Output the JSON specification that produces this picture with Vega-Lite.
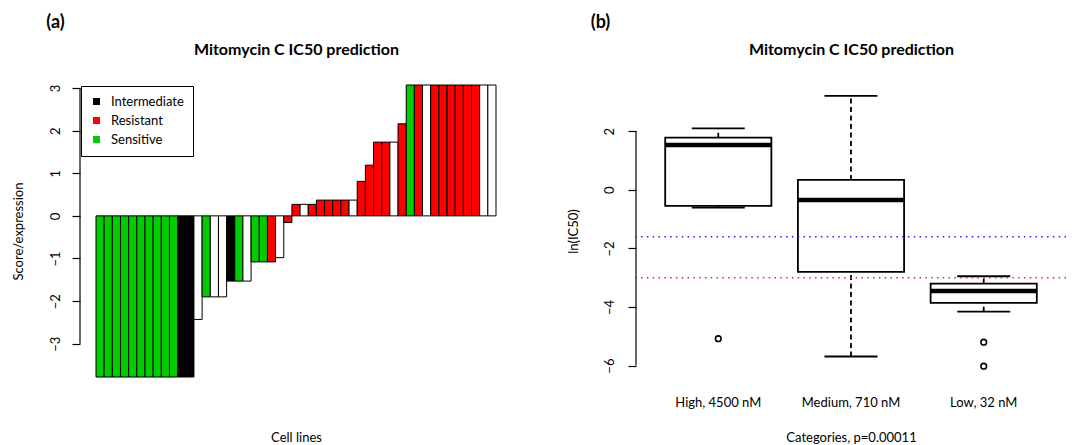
{
 "$schema": "https://vega.github.io/schema/vega-lite/v6.json",
 "padding": {"left": 12, "top": 13, "right": 0, "bottom": 0},
 "config": {
  "font": "Lato",
  "view": {"stroke": null},
  "axis": {"grid": false, "labelColor": "black", "titleColor": "black", "tickColor": "black", "domainColor": "black", "labelFontSize": 13, "titleFontSize": 13, "titleFontWeight": "normal", "labelFont": "Lato", "titleFont": "Lato"},
  "title": {"font": "Lato", "color": "black"}
 },
 "datasets": {
  "bars": [
   {"i": 1, "v": -3.78, "c": "Sensitive"},
   {"i": 2, "v": -3.78, "c": "Sensitive"},
   {"i": 3, "v": -3.78, "c": "Sensitive"},
   {"i": 4, "v": -3.78, "c": "Sensitive"},
   {"i": 5, "v": -3.78, "c": "Sensitive"},
   {"i": 6, "v": -3.78, "c": "Sensitive"},
   {"i": 7, "v": -3.78, "c": "Sensitive"},
   {"i": 8, "v": -3.78, "c": "Sensitive"},
   {"i": 9, "v": -3.78, "c": "Sensitive"},
   {"i": 10, "v": -3.78, "c": "Sensitive"},
   {"i": 11, "v": -3.78, "c": "Intermediate"},
   {"i": 12, "v": -3.78, "c": "Intermediate"},
   {"i": 13, "v": -2.43, "c": "None"},
   {"i": 14, "v": -1.90, "c": "Sensitive"},
   {"i": 15, "v": -1.90, "c": "None"},
   {"i": 16, "v": -1.90, "c": "None"},
   {"i": 17, "v": -1.53, "c": "Intermediate"},
   {"i": 18, "v": -1.53, "c": "Sensitive"},
   {"i": 19, "v": -1.53, "c": "None"},
   {"i": 20, "v": -1.08, "c": "Sensitive"},
   {"i": 21, "v": -1.08, "c": "Sensitive"},
   {"i": 22, "v": -1.08, "c": "Resistant"},
   {"i": 23, "v": -0.98, "c": "None"},
   {"i": 24, "v": -0.155, "c": "Resistant"},
   {"i": 25, "v": 0.27, "c": "Resistant"},
   {"i": 26, "v": 0.27, "c": "None"},
   {"i": 27, "v": 0.27, "c": "Resistant"},
   {"i": 28, "v": 0.37, "c": "Resistant"},
   {"i": 29, "v": 0.37, "c": "Resistant"},
   {"i": 30, "v": 0.37, "c": "Resistant"},
   {"i": 31, "v": 0.37, "c": "Resistant"},
   {"i": 32, "v": 0.37, "c": "None"},
   {"i": 33, "v": 0.81, "c": "Resistant"},
   {"i": 34, "v": 1.19, "c": "Resistant"},
   {"i": 35, "v": 1.73, "c": "Resistant"},
   {"i": 36, "v": 1.73, "c": "Resistant"},
   {"i": 37, "v": 1.73, "c": "None"},
   {"i": 38, "v": 2.16, "c": "Resistant"},
   {"i": 39, "v": 3.07, "c": "Sensitive"},
   {"i": 40, "v": 3.07, "c": "Resistant"},
   {"i": 41, "v": 3.07, "c": "None"},
   {"i": 42, "v": 3.07, "c": "Resistant"},
   {"i": 43, "v": 3.07, "c": "Resistant"},
   {"i": 44, "v": 3.07, "c": "Resistant"},
   {"i": 45, "v": 3.07, "c": "Resistant"},
   {"i": 46, "v": 3.07, "c": "Resistant"},
   {"i": 47, "v": 3.07, "c": "Resistant"},
   {"i": 48, "v": 3.07, "c": "None"},
   {"i": 49, "v": 3.07, "c": "None"}
  ],
  "boxes": [
   {"cat": "High, 4500 nM", "lo": -0.61, "q1": -0.55, "med": 1.53, "q3": 1.78, "hi": 2.10},
   {"cat": "Medium, 710 nM", "lo": -5.69, "q1": -2.80, "med": -0.35, "q3": 0.34, "hi": 3.21},
   {"cat": "Low, 32 nM", "lo": -4.16, "q1": -3.86, "med": -3.45, "q3": -3.20, "hi": -2.95}
  ],
  "outliers": [
   {"cat": "High, 4500 nM", "v": -5.08},
   {"cat": "Low, 32 nM", "v": -5.20},
   {"cat": "Low, 32 nM", "v": -6.02}
  ],
  "lines": [
   {"y": -1.6, "col": "#2222ee"},
   {"y": -3.0, "col": "#ee2222"}
  ],
  "one": [{"k": 1}]
 },
 "spacing": 124,
 "bounds": "flush",
 "hconcat": [
  {
   "width": 432, "height": 292,
   "layer": [
    {
     "data": {"name": "bars"},
     "mark": {"type": "bar", "stroke": "black", "strokeWidth": 1},
     "encoding": {
      "x": {"field": "i", "type": "ordinal", "scale": {"paddingInner": 0, "paddingOuter": 0, "range": [16, 416]}, "axis": {"title": "Cell lines", "labels": false, "ticks": false, "domain": false, "titleX": 216, "titleY": 60, "titleBaseline": "middle", "titleAlign": "center"}},
      "y": {"field": "v", "type": "quantitative", "title": "Score/expression", "scale": {"domain": [-3.78, 3.07], "nice": false, "zero": false},
            "axis": {"values": [-3, -2, -1, 0, 1, 2, 3], "domain": false, "tickSize": 8, "tickWidth": 1.2, "labelAngle": -90, "labelAlign": "center", "labelBaseline": "middle", "labelPadding": 17, "labelOverlap": false, "labelFlush": false, "titleX": -62, "titleBaseline": "middle", "titleAngle": -90}},
      "fill": {"condition": {"test": "datum.c === 'None'", "value": "white"}, "field": "c", "type": "nominal",
               "scale": {"domain": ["Intermediate", "Resistant", "Sensitive"], "range": ["#000000", "#ff0000", "#00cc00"]},
               "legend": {"title": null, "orient": "none", "legendX": 1, "legendY": 1, "strokeColor": "black", "fillColor": "white", "padding": 9, "symbolType": "square", "symbolSize": 49, "symbolStrokeWidth": 0, "labelFontSize": 13, "labelColor": "black", "labelFont": "Lato", "rowPadding": 5, "labelOffset": 8}}
     }
    },
    {
     "data": {"name": "one"},
     "mark": {"type": "rule", "color": "black", "strokeWidth": 1.2},
     "encoding": {
      "x": {"datum": 0, "type": "quantitative", "scale": {"domain": [0, 1]}, "axis": {"orient": "top", "title": "(a)", "labels": false, "ticks": false, "domain": false, "titleX": -25, "titleY": -63, "titleFontSize": 18, "titleFontWeight": "bold", "titleBaseline": "middle", "titleAlign": "center", "titleAngle": 0}},
      "y": {"datum": -3, "type": "quantitative", "scale": {"domain": [-3.78, 3.07], "nice": false, "zero": false},
            "axis": {"orient": "right", "title": "Mitomycin C IC50 prediction", "labels": false, "ticks": false, "domain": false, "titleX": -216, "titleY": -31, "titleAngle": 0, "titleAlign": "center", "titleBaseline": "alphabetic", "titleFontSize": 16, "titleFontWeight": "bold"}},
      "y2": {"datum": 3}
     }
    }
   ],
   "resolve": {"scale": {"x": "independent", "y": "independent"}, "axis": {"x": "independent", "y": "independent"}}
  },
  {
   "width": 430, "height": 292,
   "layer": [
    {
     "layer": [
      {
       "data": {"name": "boxes"},
       "mark": {"type": "rule", "color": "black", "strokeWidth": 1.8, "strokeDash": [5, 3.5]},
       "encoding": {
        "x": {"field": "cat", "type": "nominal", "title": "Categories, p=0.00011", "scale": {"domain": ["High, 4500 nM", "Medium, 710 nM", "Low, 32 nM"], "paddingInner": 0, "paddingOuter": 0.12}},
        "y": {"field": "q3", "type": "quantitative", "title": "ln(IC50)", "scale": {"domain": [-6.389, 3.579], "nice": false, "zero": false}},
        "y2": {"field": "hi"}
       }
      },
      {
       "data": {"name": "boxes"},
       "mark": {"type": "rule", "color": "black", "strokeWidth": 1.8, "strokeDash": [5, 3.5]},
       "encoding": {
        "x": {"field": "cat", "type": "nominal", "title": "Categories, p=0.00011", "scale": {"domain": ["High, 4500 nM", "Medium, 710 nM", "Low, 32 nM"], "paddingInner": 0, "paddingOuter": 0.12}},
        "y": {"field": "lo", "type": "quantitative", "title": "ln(IC50)", "scale": {"domain": [-6.389, 3.579], "nice": false, "zero": false}},
        "y2": {"field": "q1"}
       }
      },
      {
       "data": {"name": "boxes"},
       "mark": {"type": "tick", "color": "black", "size": 53, "thickness": 1.8, "opacity": 1},
       "encoding": {
        "x": {"field": "cat", "type": "nominal", "title": "Categories, p=0.00011", "scale": {"domain": ["High, 4500 nM", "Medium, 710 nM", "Low, 32 nM"], "paddingInner": 0, "paddingOuter": 0.12}},
        "y": {"field": "hi", "type": "quantitative", "title": "ln(IC50)", "scale": {"domain": [-6.389, 3.579], "nice": false, "zero": false}}
       }
      },
      {
       "data": {"name": "boxes"},
       "mark": {"type": "tick", "color": "black", "size": 53, "thickness": 1.8, "opacity": 1},
       "encoding": {
        "x": {"field": "cat", "type": "nominal", "title": "Categories, p=0.00011", "scale": {"domain": ["High, 4500 nM", "Medium, 710 nM", "Low, 32 nM"], "paddingInner": 0, "paddingOuter": 0.12}},
        "y": {"field": "lo", "type": "quantitative", "title": "ln(IC50)", "scale": {"domain": [-6.389, 3.579], "nice": false, "zero": false}}
       }
      },
      {
       "data": {"name": "boxes"},
       "mark": {"type": "bar", "fill": "white", "stroke": "black", "strokeWidth": 1.8, "width": {"band": 0.8}},
       "encoding": {
        "x": {"field": "cat", "type": "nominal", "title": "Categories, p=0.00011", "scale": {"domain": ["High, 4500 nM", "Medium, 710 nM", "Low, 32 nM"], "paddingInner": 0, "paddingOuter": 0.12},
              "axis": {"domain": false, "ticks": false, "tickSize": 0, "labelAngle": 0, "labelAlign": "center", "labelPadding": 25, "labelBaseline": "middle", "labelFontSize": 13, "titleY": 60, "titleBaseline": "middle"}},
        "y": {"field": "q1", "type": "quantitative", "title": "ln(IC50)", "scale": {"domain": [-6.389, 3.579], "nice": false, "zero": false},
              "axis": {"values": [-6, -4, -2, 0, 2], "domain": false, "tickSize": 8, "tickWidth": 1.2, "labelAngle": -90, "labelAlign": "center", "labelBaseline": "middle", "labelPadding": 19, "labelOverlap": false, "labelFlush": false, "titleX": -63, "titleBaseline": "middle", "titleAngle": -90}},
        "y2": {"field": "q3"}
       }
      },
      {
       "data": {"name": "boxes"},
       "mark": {"type": "tick", "color": "black", "size": 106, "thickness": 4.5, "opacity": 1},
       "encoding": {
        "x": {"field": "cat", "type": "nominal", "title": "Categories, p=0.00011", "scale": {"domain": ["High, 4500 nM", "Medium, 710 nM", "Low, 32 nM"], "paddingInner": 0, "paddingOuter": 0.12}},
        "y": {"field": "med", "type": "quantitative", "title": "ln(IC50)", "scale": {"domain": [-6.389, 3.579], "nice": false, "zero": false}}
       }
      },
      {
       "data": {"name": "outliers"},
       "mark": {"type": "point", "shape": "circle", "filled": false, "color": "black", "strokeWidth": 1.6, "size": 32, "opacity": 1},
       "encoding": {
        "x": {"field": "cat", "type": "nominal", "title": "Categories, p=0.00011", "scale": {"domain": ["High, 4500 nM", "Medium, 710 nM", "Low, 32 nM"], "paddingInner": 0, "paddingOuter": 0.12}},
        "y": {"field": "v", "type": "quantitative", "title": "ln(IC50)", "scale": {"domain": [-6.389, 3.579], "nice": false, "zero": false}}
       }
      },
      {
       "data": {"name": "lines"},
       "mark": {"type": "rule", "strokeWidth": 1.5, "strokeDash": [1.5, 4.3]},
       "encoding": {
        "y": {"field": "y", "type": "quantitative", "title": "ln(IC50)", "scale": {"domain": [-6.389, 3.579], "nice": false, "zero": false}},
        "color": {"field": "col", "type": "nominal", "scale": null, "legend": null}
       }
      }
     ]
    },
    {
     "data": {"name": "one"},
     "mark": {"type": "rule", "color": "black", "strokeWidth": 1.2},
     "encoding": {
      "x": {"datum": 0, "type": "quantitative", "scale": {"domain": [0, 1]}, "axis": {"orient": "top", "title": "(b)", "labels": false, "ticks": false, "domain": false, "titleX": -36, "titleY": -63, "titleFontSize": 18, "titleFontWeight": "bold", "titleBaseline": "middle", "titleAlign": "center", "titleAngle": 0}},
      "y": {"datum": -6, "type": "quantitative", "scale": {"domain": [-6.389, 3.579], "nice": false, "zero": false},
            "axis": {"orient": "right", "title": "Mitomycin C IC50 prediction", "labels": false, "ticks": false, "domain": false, "titleX": -215, "titleY": -31, "titleAngle": 0, "titleAlign": "center", "titleBaseline": "alphabetic", "titleFontSize": 16, "titleFontWeight": "bold"}},
      "y2": {"datum": 2}
     }
    }
   ],
   "resolve": {"scale": {"x": "independent", "y": "independent"}, "axis": {"x": "independent", "y": "independent"}}
  }
 ]
}
